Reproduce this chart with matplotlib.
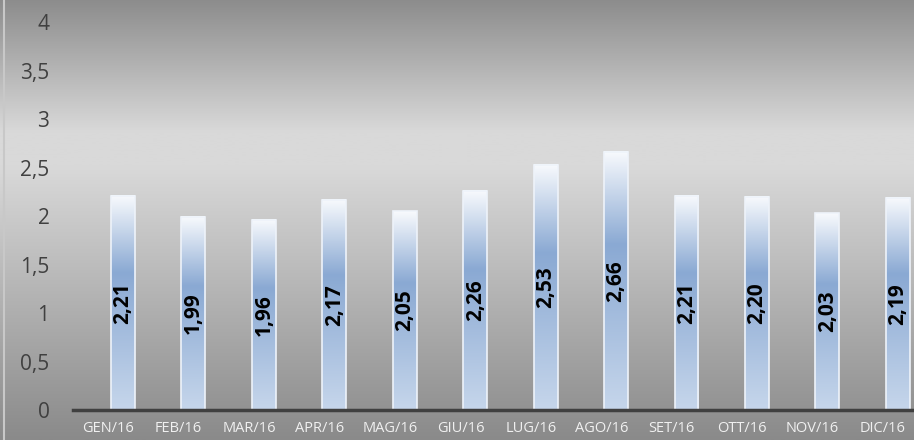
import numpy as np
import matplotlib
matplotlib.use("Agg")
from matplotlib import pyplot as plt
from matplotlib.colors import LinearSegmentedColormap

months = ["GEN/16", "FEB/16", "MAR/16", "APR/16", "MAG/16", "GIU/16",
          "LUG/16", "AGO/16", "SET/16", "OTT/16", "NOV/16", "DIC/16"]
values = [2.21, 1.99, 1.96, 2.17, 2.05, 2.26, 2.53, 2.66, 2.21, 2.20, 2.03, 2.19]
yticks = [0, 0.5, 1, 1.5, 2, 2.5, 3, 3.5, 4]

plt.rcParams["font.family"] = ["Open Sans", "DejaVu Sans"]

fig = plt.figure(figsize=(9.14, 4.40), dpi=100)

# background: grey vertical gradient, light band in upper middle
bg = fig.add_axes([0, 0, 1, 1], zorder=-10)
bg_cmap = LinearSegmentedColormap.from_list(
    "bg", [(0.0, "#8a8a8a"), (0.62, "#d9d9d9"), (0.70, "#d9d9d9"), (1.0, "#8c8c8c")])
grad = np.linspace(0, 1, 256).reshape(-1, 1)
bg.imshow(grad, aspect="auto", cmap=bg_cmap, extent=(0, 1, 0, 1), origin="lower")
bg.axis("off")
fig.add_artist(plt.Line2D([0.004, 0.004], [0, 1], color="#c8c8c8", lw=1.5))

ax = fig.add_axes([73 / 914, 30 / 440, 1 - 73 / 914, 388 / 440])
ax.set_facecolor("none")

bar_cmap = LinearSegmentedColormap.from_list(
    "bar", [(0.0, "#c6d6eb"), (0.64, "#8aa9d3"), (1.0, "#f8fafd")])
x = np.arange(len(months))
w = 0.34
bars = ax.bar(x, values, width=w, color="none", edgecolor="#eef3fa", linewidth=1.2, zorder=3)
for b, v in zip(bars, values):
    ax.imshow(grad, aspect="auto", cmap=bar_cmap, origin="lower",
              extent=(b.get_x(), b.get_x() + w, 0, v), zorder=2)
    ax.text(b.get_x() + w / 2, v / 2, ("%.2f" % v).replace(".", ","), rotation=90,
            ha="center", va="center", fontsize=15, fontweight="bold", color="black", zorder=4)

ax.set_xlim(-0.71, 11.23)
ax.set_ylim(0, 4)
ax.set_yticks(yticks)
ax.set_yticklabels([("%g" % t).replace(".", ",") for t in yticks], fontsize=15, color="#404040")
# category labels sit a little left of the bars
ax.set_xticks(x - 0.21)
ax.set_xticklabels(months, fontsize=10.5, color="#f0f0f0")
ax.tick_params(axis="y", length=0, pad=17)
ax.tick_params(axis="x", length=0, pad=8)
for s in ["top", "right", "left"]:
    ax.spines[s].set_visible(False)
ax.spines["bottom"].set_color("#404040")
ax.spines["bottom"].set_linewidth(2.5)
ax.spines["bottom"].set_zorder(5)

plt.savefig("out.png", dpi=100)
